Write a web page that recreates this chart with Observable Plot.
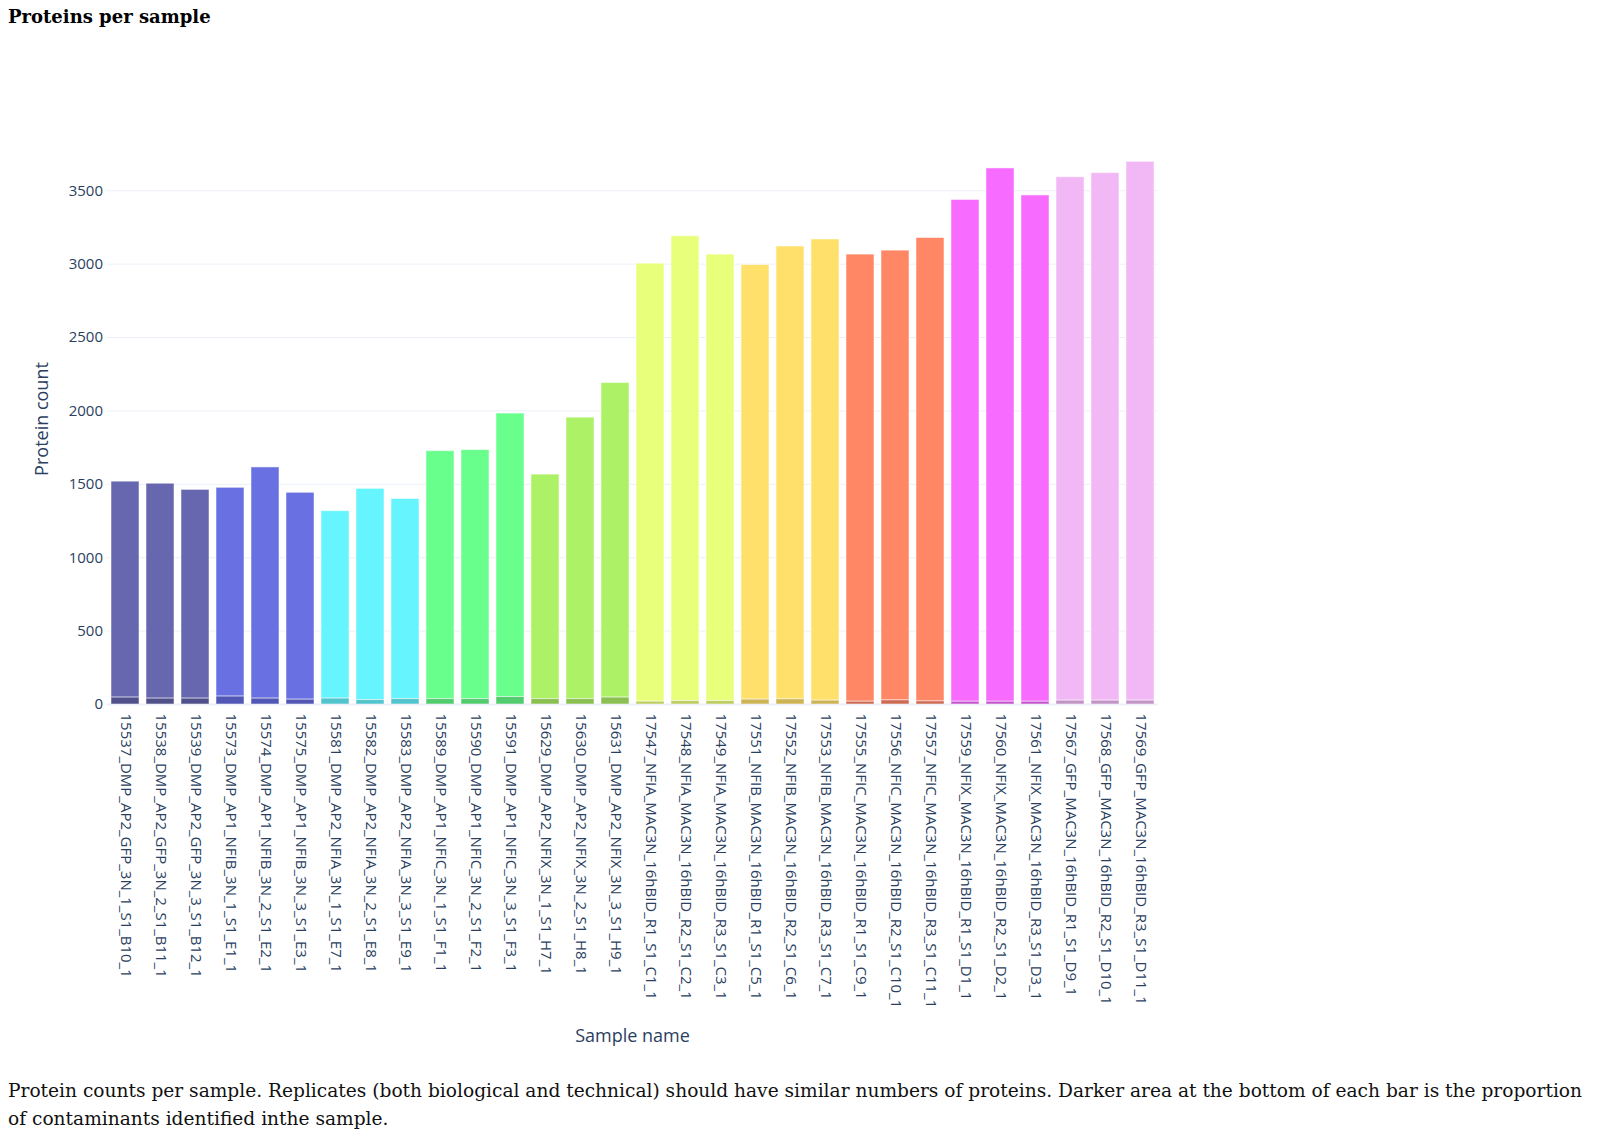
<!DOCTYPE html>
<html>
<head>
<meta charset="utf-8">
<script src="https://cdn.jsdelivr.net/npm/d3@7"></script>
<script src="https://cdn.jsdelivr.net/npm/@observablehq/plot@0.6"></script>
<style>
  html, body { margin: 0; padding: 0; background: white; width: 1600px; height: 1135px; overflow: hidden; }
  #title { position: absolute; left: 8px; top: 6px; font-family: "DejaVu Serif", serif; font-weight: bold; font-size: 18px; color: #000; }
  #chart { position: absolute; left: 0; top: 40px; }
  #caption { position: absolute; left: 8px; top: 1077px; width: 1592px; white-space: nowrap; font-family: "DejaVu Serif", serif; font-size: 18.6px; line-height: 28px; color: #111; }
</style>
</head>
<body>
<div id="title">Proteins per sample</div>
<div id="chart"></div>
<div id="caption">Protein counts per sample. Replicates (both biological and technical) should have similar numbers of proteins. Darker area at the bottom of each bar is the proportion<br>of contaminants identified inthe sample.</div>
<script>
// ---- data ----
const samples = [
  "15537_DMP_AP2_GFP_3N_1_S1_B10_1", "15538_DMP_AP2_GFP_3N_2_S1_B11_1", "15539_DMP_AP2_GFP_3N_3_S1_B12_1",
  "15573_DMP_AP1_NFIB_3N_1_S1_E1_1", "15574_DMP_AP1_NFIB_3N_2_S1_E2_1", "15575_DMP_AP1_NFIB_3N_3_S1_E3_1",
  "15581_DMP_AP2_NFIA_3N_1_S1_E7_1", "15582_DMP_AP2_NFIA_3N_2_S1_E8_1", "15583_DMP_AP2_NFIA_3N_3_S1_E9_1",
  "15589_DMP_AP1_NFIC_3N_1_S1_F1_1", "15590_DMP_AP1_NFIC_3N_2_S1_F2_1", "15591_DMP_AP1_NFIC_3N_3_S1_F3_1",
  "15629_DMP_AP2_NFIX_3N_1_S1_H7_1", "15630_DMP_AP2_NFIX_3N_2_S1_H8_1", "15631_DMP_AP2_NFIX_3N_3_S1_H9_1",
  "17547_NFIA_MAC3N_16hBID_R1_S1_C1_1", "17548_NFIA_MAC3N_16hBID_R2_S1_C2_1", "17549_NFIA_MAC3N_16hBID_R3_S1_C3_1",
  "17551_NFIB_MAC3N_16hBID_R1_S1_C5_1", "17552_NFIB_MAC3N_16hBID_R2_S1_C6_1", "17553_NFIB_MAC3N_16hBID_R3_S1_C7_1",
  "17555_NFIC_MAC3N_16hBID_R1_S1_C9_1", "17556_NFIC_MAC3N_16hBID_R2_S1_C10_1", "17557_NFIC_MAC3N_16hBID_R3_S1_C11_1",
  "17559_NFIX_MAC3N_16hBID_R1_S1_D1_1", "17560_NFIX_MAC3N_16hBID_R2_S1_D2_1", "17561_NFIX_MAC3N_16hBID_R3_S1_D3_1",
  "17567_GFP_MAC3N_16hBID_R1_S1_D9_1", "17568_GFP_MAC3N_16hBID_R2_S1_D10_1", "17569_GFP_MAC3N_16hBID_R3_S1_D11_1"
];
const proteinCounts = [
  1518, 1504, 1462, 1476, 1615, 1442, 1317, 1469, 1400, 1726,
  1733, 1982, 1566, 1954, 2190, 3003, 3190, 3065, 2994, 3120,
  3168, 3065, 3092, 3178, 3437, 3652, 3468, 3592, 3620, 3697
];
const contaminantCounts = [
  47, 40, 40, 54, 40, 33, 40, 30, 37, 37,
  37, 51, 37, 37, 47, 19, 23, 23, 33, 35,
  26, 19, 28, 21, 19, 19, 19, 26, 26, 26
];
const sampleGroups = [
  "DMP_AP2_GFP", "DMP_AP2_GFP", "DMP_AP2_GFP",
  "DMP_AP1_NFIB", "DMP_AP1_NFIB", "DMP_AP1_NFIB",
  "DMP_AP2_NFIA", "DMP_AP2_NFIA", "DMP_AP2_NFIA",
  "DMP_AP1_NFIC", "DMP_AP1_NFIC", "DMP_AP1_NFIC",
  "DMP_AP2_NFIX", "DMP_AP2_NFIX", "DMP_AP2_NFIX",
  "NFIA_MAC3N", "NFIA_MAC3N", "NFIA_MAC3N",
  "NFIB_MAC3N", "NFIB_MAC3N", "NFIB_MAC3N",
  "NFIC_MAC3N", "NFIC_MAC3N", "NFIC_MAC3N",
  "NFIX_MAC3N", "NFIX_MAC3N", "NFIX_MAC3N",
  "GFP_MAC3N", "GFP_MAC3N", "GFP_MAC3N"
];
const groupNames = ["DMP_AP2_GFP", "DMP_AP1_NFIB", "DMP_AP2_NFIA", "DMP_AP1_NFIC", "DMP_AP2_NFIX",
  "NFIA_MAC3N", "NFIB_MAC3N", "NFIC_MAC3N", "NFIX_MAC3N", "GFP_MAC3N"];
const yTicks = [0, 500, 1000, 1500, 2000, 2500, 3000, 3500];

// ---- styles ----
const lightColors = ["#6767AF", "#6970E2", "#66F5FF", "#69FF8C", "#ADF266", "#E8FF7C", "#FFE06B", "#FF8766", "#F76BFF", "#F2B8F5"];
const darkColors  = ["#50508A", "#5257B5", "#52C4CC", "#52CC6E", "#8ABF52", "#BDCC5E", "#CCB355", "#CC6B52", "#C555CC", "#C293C5"];
const lightOf = new Map(groupNames.map((g, i) => [g, lightColors[i]]));
const darkOf = new Map(groupNames.map((g, i) => [g, darkColors[i]]));

const rows = samples.map((s, i) => ({
  sample: s, total: proteinCounts[i], contam: contaminantCounts[i], group: sampleGroups[i]
}));

const chart = Plot.plot({
  width: 1600,
  height: 1010,
  marginTop: 93,
  marginBottom: 346,
  marginLeft: 106.5,
  marginRight: 442.5,
  style: { fontFamily: "'Open Sans', sans-serif", fontSize: "15px", color: "#2a3f5f", background: "white" },
  x: { domain: samples, paddingInner: 0.2, paddingOuter: 0.1 },
  y: { domain: [0, 3890] },
  color: { type: "identity" },
  marks: [
    Plot.gridY(yTicks.slice(1), { stroke: "#EBF0F8", strokeOpacity: 1, strokeWidth: 1 }),
    Plot.ruleY([0], { stroke: "#EBF0F8", strokeWidth: 2 }),
    Plot.barY(rows, { x: "sample", y1: "contam", y2: "total", fill: d => lightOf.get(d.group), stroke: "white", strokeWidth: 1, strokeOpacity: 0.5 }),
    Plot.barY(rows, { x: "sample", y1: 0, y2: "contam", fill: d => darkOf.get(d.group), stroke: "white", strokeWidth: 1, strokeOpacity: 0.5 }),
    Plot.axisY({ ticks: yTicks, tickFormat: d => String(d), tickSize: 0, tickPadding: 4, fontSize: 15, label: "Protein count", labelAnchor: "center", labelOffset: 72, labelArrow: "none" }),
    Plot.axisX({ tickSize: 0, tickPadding: 9, tickRotate: 90, fontSize: 15, label: "Sample name", labelAnchor: "center", labelOffset: 337, labelArrow: "none" })
  ]
});
chart.querySelectorAll("g[aria-label='y-axis label'] text, g[aria-label='x-axis label'] text").forEach(t => t.setAttribute("font-size", "18"));
document.getElementById("chart").appendChild(chart);
</script>
</body>
</html>
